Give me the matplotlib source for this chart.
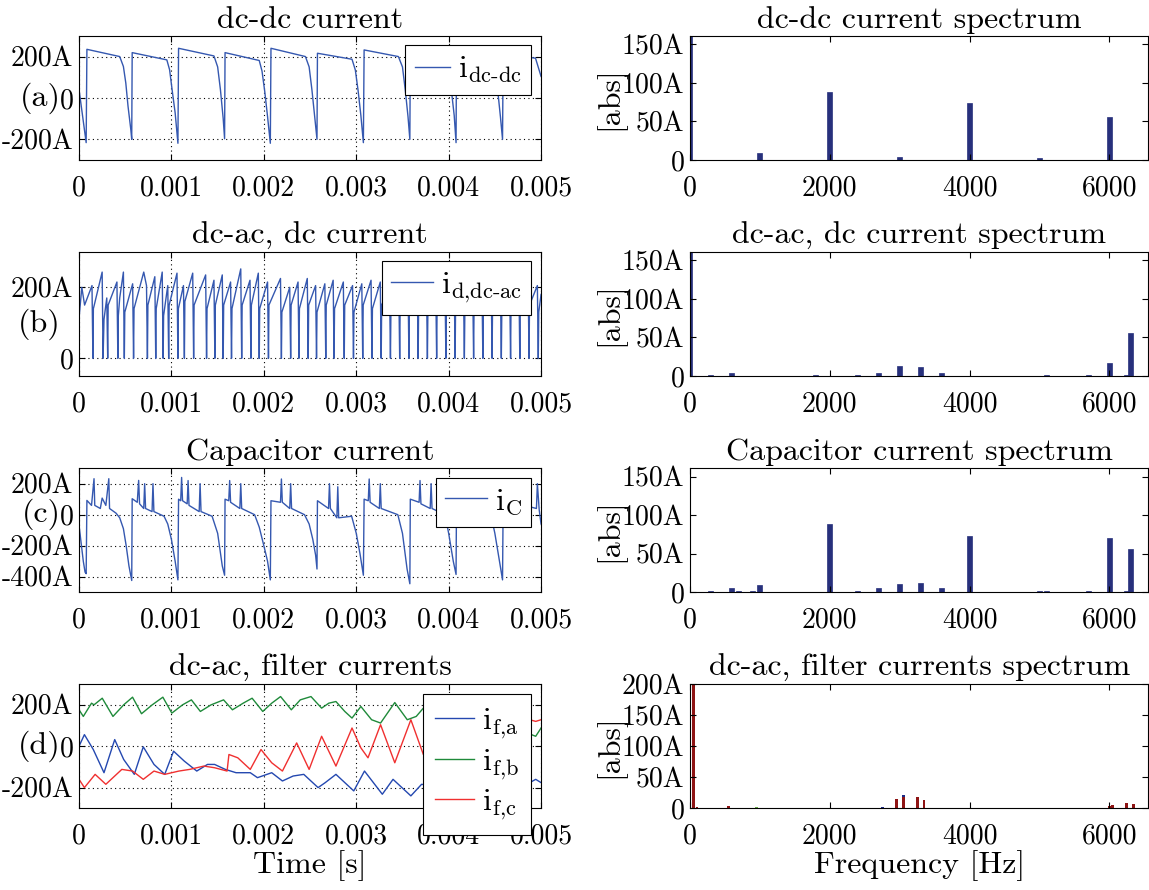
import matplotlib.pyplot as plt
import numpy as np

plt.rcParams['font.family'] = 'cmr10'
plt.rcParams['mathtext.fontset'] = 'cm'
plt.rcParams['axes.formatter.use_mathtext'] = True

# ---- time signals (time in ms, current in A) ----
t_dcdc = [0, 0.077, 0.085, 0.44, 0.48, 0.506, 0.53, 0.56, 0.57,
          0.575, 0.95, 0.98, 1.007, 1.04, 1.07,
          1.077, 1.46, 1.50, 1.53, 1.56, 1.575,
          1.58, 1.95, 1.98, 2.01, 2.04, 2.07,
          2.077, 2.45, 2.49, 2.52, 2.55, 2.575,
          2.58, 2.954, 2.99, 3.02, 3.05, 3.077,
          3.085, 3.456, 3.50, 3.53, 3.56, 3.58,
          3.585, 3.96, 4.00, 4.03, 4.06, 4.08,
          4.085, 4.46, 4.50, 4.53, 4.56, 4.583,
          4.59, 4.94, 5.0]
i_dcdc = [40, -216, 235, 200, 152, 72, -40, -152, -200,
          219, 184, 136, 40, -72, -219,
          240, 203, 150, 40, -100, -197,
          219, 181, 130, 30, -90, -219,
          240, 200, 150, 40, -90, -200,
          216, 187, 135, 35, -85, -216,
          232, 200, 150, 40, -90, -200,
          224, 192, 140, 35, -85, -216,
          235, 200, 150, 40, -90, -200,
          215, 192, 104]

t_dcac = [0, 0.03, 0.06, 0.14, 0.15, 0.155, 0.16, 0.25, 0.26, 0.27, 0.30, 0.31, 0.315,
          0.41, 0.42, 0.425, 0.44, 0.48, 0.49, 0.495, 0.58, 0.59, 0.595, 0.70, 0.73,
          0.74, 0.745, 0.82, 0.83, 0.835, 0.90, 0.91, 0.915, 0.96, 0.97, 0.975, 1.06,
          1.07, 1.075, 1.13, 1.14, 1.145, 1.23, 1.24, 1.245, 1.37, 1.38, 1.385, 1.46,
          1.47, 1.475, 1.55, 1.56, 1.565, 1.64, 1.65, 1.655, 1.75, 1.76, 1.765, 1.85,
          1.86, 1.865, 1.94, 1.95, 1.955, 2.04, 2.05, 2.055, 2.18, 2.19, 2.195, 2.28,
          2.29, 2.295, 2.37, 2.38, 2.385, 2.47, 2.48, 2.485, 2.56, 2.57, 2.575, 2.66,
          2.67, 2.675, 2.75, 2.76, 2.765, 2.86, 2.87, 2.875, 2.96, 2.97, 2.975, 3.06,
          3.07, 3.075, 3.16, 3.17, 3.175, 3.26, 3.27, 3.275, 3.36, 3.37, 3.375, 3.46,
          3.47, 3.475, 3.56, 3.57, 3.575, 3.66, 3.67, 3.675, 3.76, 3.77, 3.775, 3.86,
          3.87, 3.875, 3.96, 3.97, 3.975, 4.06, 4.07, 4.075, 4.16, 4.17, 4.175, 4.26,
          4.27, 4.275, 4.36, 4.37, 4.375, 4.46, 4.47, 4.475, 4.56, 4.57, 4.575, 4.66,
          4.67, 4.675, 4.76, 4.77, 4.775, 4.86, 4.87, 4.875, 4.96, 4.97, 4.975, 5.0]
i_dcac = [114, 200, 150, 205, 0, 140, 145, 243, 0, 110, 170, 0, 150,
          215, 0, 120, 170, 243, 0, 130, 210, 0, 140, 243, 205,
          0, 150, 230, 0, 140, 243, 0, 120, 205, 0, 150, 240,
          0, 140, 205, 0, 160, 240, 0, 150, 235, 0, 140, 220,
          0, 150, 235, 0, 150, 215, 0, 140, 252, 0, 150, 220,
          0, 150, 240, 0, 140, 215, 0, 150, 225, 0, 130, 200,
          0, 150, 215, 0, 140, 225, 0, 150, 205, 0, 130, 210,
          0, 150, 220, 0, 140, 215, 0, 150, 205, 0, 130, 210,
          0, 150, 220, 0, 140, 215, 0, 150, 205, 0, 130, 210,
          0, 150, 220, 0, 140, 215, 0, 150, 205, 0, 130, 210,
          0, 150, 220, 0, 140, 215, 0, 150, 205, 0, 130, 210,
          0, 150, 220, 0, 140, 215, 0, 150, 205, 0, 130, 210,
          0, 150, 220, 0, 140, 215, 0, 150, 205, 0, 130, 180]

t_cap = [0, 0.046, 0.065, 0.077, 0.085, 0.135, 0.162, 0.170, 0.23, 0.25, 0.29, 0.322, 0.33,
         0.40, 0.44, 0.48, 0.51, 0.54, 0.57, 0.575, 0.63, 0.645, 0.655, 0.70, 0.71, 0.72,
         0.79, 0.80, 0.81, 0.92, 0.96, 1.00, 1.04, 1.07, 1.077, 1.10, 1.11, 1.12, 1.17,
         1.18, 1.19, 1.30, 1.31, 1.32, 1.44, 1.50, 1.55, 1.575, 1.58, 1.62, 1.63, 1.64,
         1.74, 1.75, 1.76, 1.90, 1.95, 2.00, 2.04, 2.07, 2.077, 2.18, 2.19, 2.20, 2.28,
         2.29, 2.30, 2.44, 2.49, 2.53, 2.56, 2.575, 2.58, 2.70, 2.71, 2.72, 2.79, 2.80,
         2.81, 2.95, 3.00, 3.04, 3.077, 3.085, 3.13, 3.14, 3.15, 3.25, 3.26, 3.27, 3.45,
         3.50, 3.55, 3.58, 3.585, 3.68, 3.69, 3.70, 3.80, 3.81, 3.82, 3.96, 4.00, 4.05,
         4.08, 4.085, 4.20, 4.21, 4.22, 4.45, 4.50, 4.55, 4.583, 4.59, 4.95, 4.96, 4.98, 5.0]
i_cap = [-69, -300, -370, -380, 92, 60, 232, 60, 40, 107, 60, 232, 40,
         10, -20, -90, -200, -330, -424, 103, 80, 221, 70, 40, 200, 40,
         20, 200, 20, -10, -60, -160, -300, -420, 100, 90, 240, 90, 70,
         220, 60, 20, 200, 20, -10, -120, -330, -390, 100, 90, 220, 80,
         40, 200, 40, 0, -80, -200, -300, -420, 90, 80, 230, 80, 40,
         200, 40, 0, -60, -160, -260, -350, 90, 40, 200, 40, -20, 180,
         -20, -10, -120, -250, -390, 100, 90, 230, 80, 40, 200, 40, 0,
         -120, -350, -445, 100, 80, 220, 70, 40, 200, 40, 0, -120, -300,
         -385, 100, 90, 220, 80, 20, -120, -300, -420, 95, 40, 200, 30, -60]

t_f_a = [0, 0.058, 0.154, 0.270, 0.386, 0.483, 0.598, 0.695, 0.811, 0.927, 1.023, 1.139,
         1.274, 1.390, 1.467, 1.583, 1.699, 1.853, 1.931, 2.085, 2.201, 2.317, 2.432, 2.587,
         2.664, 2.780, 2.973, 3.089, 3.282, 3.398, 3.475, 3.591, 3.707, 3.822, 3.900, 4.1,
         4.3, 4.5, 4.7, 4.942, 5.0]
i_f_a = [0, 56, -16, -128, 32, -64, -136, -3, -88, -136, -24, -72,
         -120, -88, -88, -112, -128, -128, -152, -128, -168, -144, -136, -200,
         -176, -136, -216, -120, -232, -160, -192, -240, -184, -192, -208, -150,
         -210, -170, -220, -160, -176]
t_f_b = [0, 0.046, 0.135, 0.162, 0.251, 0.367, 0.483, 0.579, 0.676, 0.792, 0.907, 1.004,
         1.120, 1.216, 1.313, 1.429, 1.564, 1.660, 1.776, 1.873, 1.988, 2.085, 2.181, 2.297,
         2.394, 2.510, 2.625, 2.703, 2.780, 2.876, 2.954, 3.050, 3.166, 3.263, 3.417, 3.552,
         3.649, 3.726, 3.842, 3.900, 4.1, 4.3, 4.5, 4.7, 4.942, 5.0]
i_f_b = [176, 144, 208, 200, 232, 144, 200, 237, 157, 200, 237, 160,
         200, 224, 168, 200, 224, 176, 208, 232, 168, 208, 240, 176,
         224, 240, 184, 208, 216, 168, 136, 192, 128, 112, 211, 128,
         144, 184, 120, 104, 150, 110, 160, 90, 48, 88]
t_f_c = [0, 0.058, 0.174, 0.290, 0.463, 0.579, 0.695, 0.811, 0.927, 1.081, 1.197, 1.351,
         1.467, 1.602, 1.622, 1.718, 1.853, 1.969, 2.085, 2.201, 2.355, 2.490, 2.625, 2.780,
         2.954, 3.050, 3.127, 3.263, 3.417, 3.591, 3.726, 3.842, 3.919, 4.1, 4.3, 4.5,
         4.7, 4.942, 5.0]
i_f_c = [-160, -200, -136, -184, -112, -120, -160, -120, -136, -120, -112, -96,
         -104, -120, -40, -56, -112, -16, -80, -120, 16, -112, 48, -96,
         88, -8, -56, 104, -80, 128, -40, 48, 96, 20, 140, 60,
         150, 120, 128]

# ---- spectra (frequency in Hz, amplitude in A) ----
f_dcdc = [0, 1000, 2000, 3000, 4000, 5000, 6000]
a_dcdc = [161, 9.5, 88, 3.5, 73.5, 2, 55.5]

f_dcac = [0, 300, 600, 1800, 2400, 2700, 3000, 3300, 3600, 5100, 5700, 6000, 6250, 6300]
a_dcac = [161, 1.3, 4.3, 1.3, 1.3, 4.3, 13, 11.7, 4.3, 1.3, 1.3, 16.5, 1.3, 55.7]

f_cap = [300, 600, 700, 900, 1000, 2000, 2400, 2700, 3000, 3300, 3600, 4000,
         5000, 5100, 5700, 6000, 6250, 6300]
a_cap = [1.7, 5.2, 2, 2, 9.6, 89, 2, 5.2, 11, 12.7, 5.2, 73,
         2, 2, 2, 70, 2, 56]

f_filt = [50, 100, 550, 850, 950, 2050, 2750, 2950, 3050, 3250, 3350, 6000, 6050, 6250, 6350]
a_filt_a = [200, 1, 1, 0.5, 0.5, 0.5, 2, 4, 21, 5, 3, 1, 2, 4, 2]
a_filt_b = [200, 1, 1, 0.5, 1.5, 0.5, 1, 4, 6, 5, 3, 1, 2, 9, 2]
a_filt_c = [200, 2, 3, 1, 0.5, 0.5, 0.5, 15, 18, 19, 13, 3, 5, 9, 7]

line_blue = '#3558b0'
bar_blue = '#27307c'

W, H = 1149, 890
fig = plt.figure(figsize=(W / 100, H / 100), dpi=100)

row_bottoms = [0.8202, 0.5775, 0.3345, 0.0918]
row_h = 0.1395
left_axes = [fig.add_axes([0.0688, b, 0.4021, row_h]) for b in row_bottoms]
right_axes = [fig.add_axes([0.6005, b, 0.3990, row_h]) for b in row_bottoms]

time_ticks = [0, 0.001, 0.002, 0.003, 0.004, 0.005]
time_labels = ['0', '0.001', '0.002', '0.003', '0.004', '0.005']


def ms(t):
    return np.asarray(t) * 1e-3


def setup_time(ax, title, ylim, yticks, ylabels, tag, tag_y):
    ax.set_xlim(0, 0.005)
    ax.set_ylim(*ylim)
    ax.set_xticks(time_ticks)
    ax.set_xticklabels(time_labels)
    ax.set_yticks(yticks)
    ax.set_yticklabels(ylabels)
    ax.grid(True, color='k', ls=(0, (1, 3)), lw=0.8)
    ax.tick_params(direction='in', top=True, right=True, length=4, labelsize=20)
    ax.tick_params(axis='x', pad=11)
    ax.tick_params(axis='y', pad=4)
    ax.set_title(title, fontsize=23, pad=6)
    ax.text(-0.04, tag_y, tag, transform=ax.get_yaxis_transform(),
            ha='right', va='center', fontsize=23)


def setup_spec(ax, title, ytop, yticks, ylabels):
    ax.set_xlim(0, 6560)
    ax.set_ylim(0, ytop)
    ax.set_xticks([0, 2000, 4000, 6000])
    ax.set_xticklabels(['0', '2000', '4000', '6000'])
    ax.set_yticks(yticks)
    ax.set_yticklabels(ylabels)
    ax.tick_params(direction='in', top=True, right=True, length=4, labelsize=20)
    ax.tick_params(axis='x', pad=11)
    ax.tick_params(axis='y', pad=4)
    ax.set_title(title, fontsize=23, pad=6)
    ax.set_ylabel('[abs]', fontsize=23)
    ax.yaxis.set_label_coords(-0.142, 0.5)


def legend(ax, **kw):
    opts = dict(loc='upper right', fontsize=23, handlelength=1.3, handletextpad=0.25,
                borderaxespad=0.3, borderpad=0.3, fancybox=False, framealpha=1,
                edgecolor='k')
    opts.update(kw)
    leg = ax.legend(**opts)
    leg.get_frame().set_linewidth(0.8)
    return leg


# (a) dc-dc current
ax = left_axes[0]
ax.plot(ms(t_dcdc), i_dcdc, color=line_blue, lw=1, label=r'$\mathrm{i}_{\text{dc-dc}}$')
setup_time(ax, 'dc-dc current', (-300, 300), [-200, 0, 200], ['-200A', '0', '200A'], '(a)', 0)
legend(ax, handlelength=1.1)

# (b) dc-ac, dc current
ax = left_axes[1]
ax.plot(ms(t_dcac), i_dcac, color=line_blue, lw=1, label=r'$\mathrm{i}_{\text{d,dc-ac}}$')
setup_time(ax, 'dc-ac, dc current', (-50, 300), [0, 200], ['0', '200A'], '(b)', 95)
legend(ax)

# (c) capacitor current
ax = left_axes[2]
ax.plot(ms(t_cap), i_cap, color=line_blue, lw=1, label=r'$\mathrm{i}_{\mathrm{C}}$')
setup_time(ax, 'Capacitor current', (-500, 300), [-400, -200, 0, 200],
           ['-400A', '-200A', '0', '200A'], '(c)', 0)
legend(ax)

# (d) filter currents
ax = left_axes[3]
ax.plot(ms(t_f_a), i_f_a, color='#2448b0', lw=1, label=r'$\mathrm{i}_{\text{f,a}}$')
ax.plot(ms(t_f_b), i_f_b, color='#1f8a3a', lw=1, label=r'$\mathrm{i}_{\text{f,b}}$')
ax.plot(ms(t_f_c), i_f_c, color='#f03030', lw=1, label=r'$\mathrm{i}_{\text{f,c}}$')
setup_time(ax, 'dc-ac, filter currents', (-300, 300), [-200, 0, 200], ['-200A', '0', '200A'], '(d)', 0)
ax.set_xlabel('Time [s]', fontsize=23, labelpad=0)
legend(ax, borderpad=0.4, labelspacing=0.2, handlelength=1.2)

# spectra
bw = 70
ax = right_axes[0]
ax.bar(f_dcdc, a_dcdc, width=bw, color=bar_blue, edgecolor=bar_blue, lw=0.5)
setup_spec(ax, 'dc-dc current spectrum', 161, [0, 50, 100, 150], ['0', '50A', '100A', '150A'])

ax = right_axes[1]
ax.bar(f_dcac, a_dcac, width=bw, color=bar_blue, edgecolor=bar_blue, lw=0.5)
setup_spec(ax, 'dc-ac, dc current spectrum', 161, [0, 50, 100, 150], ['0', '50A', '100A', '150A'])

ax = right_axes[2]
ax.bar(f_cap, a_cap, width=bw, color=bar_blue, edgecolor=bar_blue, lw=0.5)
setup_spec(ax, 'Capacitor current spectrum', 161, [0, 50, 100, 150], ['0', '50A', '100A', '150A'])

# filter spectrum: the three phases drawn on top of each other
ax = right_axes[3]
fw = 40
ax.bar(f_filt, a_filt_a, width=fw, color='#1c2a86', lw=0)
ax.bar(f_filt, a_filt_b, width=fw, color='#6cb04a', lw=0)
ax.bar(f_filt, a_filt_c, width=fw, color='#8e1414', lw=0)
setup_spec(ax, 'dc-ac, filter currents spectrum', 200, [0, 50, 100, 150, 200],
           ['0', '50A', '100A', '150A', '200A'])
ax.set_xlabel('Frequency [Hz]', fontsize=23, labelpad=0)

fig.savefig('out.png', dpi=100)
